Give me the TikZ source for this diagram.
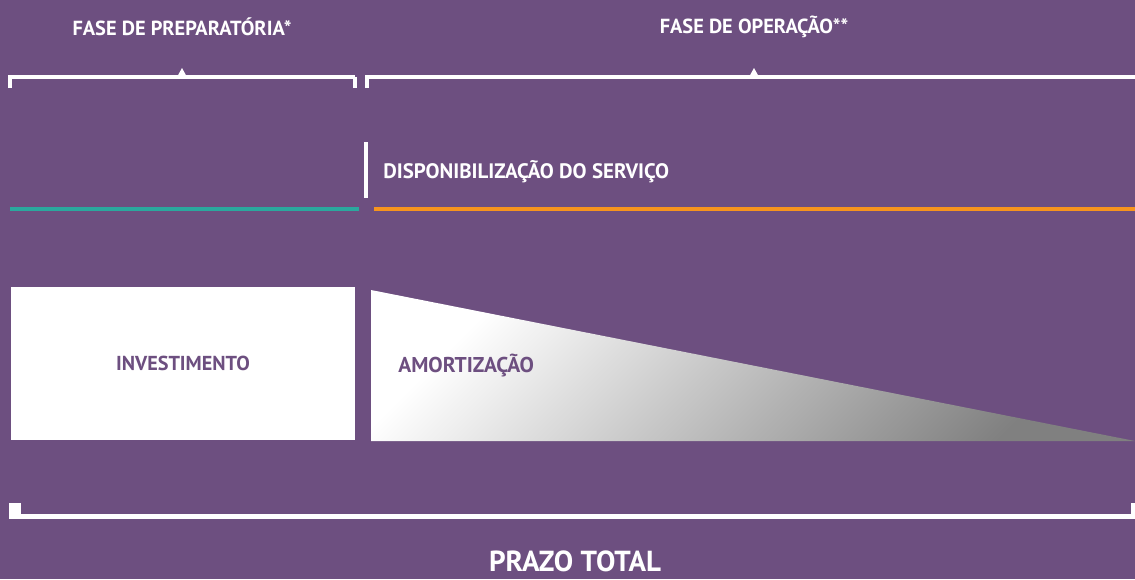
\documentclass[tikz,border=0pt]{standalone}
\usepackage{fontspec}
\setmainfont{PT Sans}
\usepackage{xcolor}
\usetikzlibrary{positioning,calc}
\definecolor{dpurple}{RGB}{109,79,128}
\definecolor{dteal}{RGB}{43,168,158}
\definecolor{dorange}{RGB}{247,148,29}

\begin{document}
\begin{tikzpicture}[x=0.02cm,y=-0.02cm,
  every node/.style={font=\bfseries,text=white,inner sep=0pt},
  bracketline/.style={draw=white,line width=2pt},
  phaseline/.style={line width=2.8pt}]

% background and page size
\fill[dpurple] (0,0) rectangle (1135,579);
\useasboundingbox (0,0) rectangle (1135,579);

% phase titles and their brackets
\def\phases{10/355/182/prep/{FASE DE PREPARATÓRIA*},
            367/1135/754/oper/{FASE DE OPERAÇÃO**}}
\foreach \xa/\xb/\xm/\nm/\txt in \phases
{
  \node (\nm) at (\xm,27) {\fontsize{11.6}{13}\selectfont \txt};
  \draw[bracketline] (\xa,88) -- (\xa,77) -- (\xb,77);
  \fill[white] (\xm-5,77) -- (\xm,68) -- (\xm+5,77) -- cycle;
}
\draw[bracketline] (355,77) -- (355,88);

% start of the service
\draw[white,line width=1.8pt] (366,142) -- (366,198);
\node[anchor=west] (disp) at (383,172) {\fontsize{11.9}{13}\selectfont DISPONIBILIZAÇÃO DO SERVIÇO};

% coloured time lines
\draw[phaseline,dteal] (10,209) -- (359,209);
\draw[phaseline,dorange] (374,209) -- (1135,209);

% investment box
\node[fill=white,minimum width=6.88cm,minimum height=3.06cm,text=dpurple] (invest) at (183,363.5)
  {\fontsize{11.5}{13}\selectfont INVESTIMENTO};

% amortization wedge
\shade[top color=white,bottom color=black!50,shading angle=45]
  (371,290) -- (1135,441) -- (371,441) -- cycle;
\node[anchor=west,text=dpurple] (amort) at (398,366) {\fontsize{12.2}{13}\selectfont AMORTIZAÇÃO};

% total term bracket
\fill[white] (9,503) rectangle (21,519);
\fill[white] (1131,503) rectangle (1135,519);
\fill[white] (9,514) rectangle (1135,519);
\node (prazo) at (575,561) {\fontsize{16.5}{18}\selectfont PRAZO TOTAL};

\end{tikzpicture}
\end{document}
